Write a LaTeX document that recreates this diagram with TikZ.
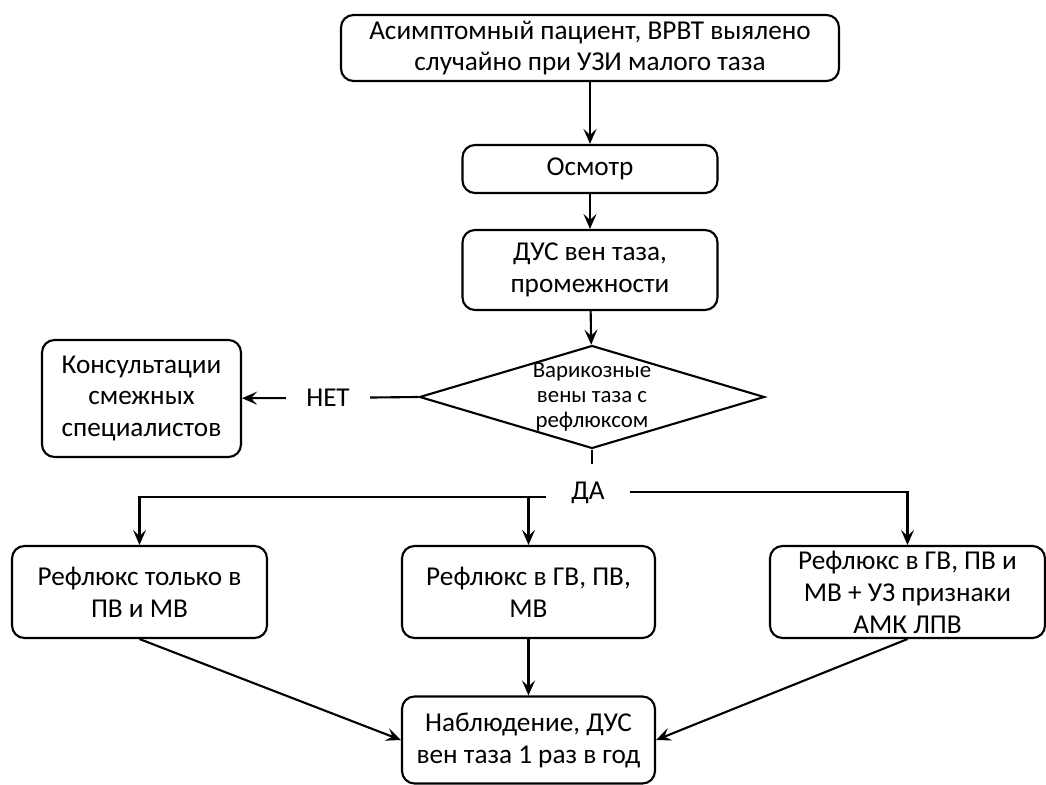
\documentclass[tikz,border=0pt]{standalone}
\usepackage{fontspec}
\setmainfont{Carlito}
\usepackage{tikz}
\usetikzlibrary{arrows.meta,shapes,positioning}
\tikzset{
  stepbox/.style={draw, line width=1.2pt, rounded corners=0.25cm, align=center,
    font=\fontsize{15.5}{18.2}\selectfont, inner sep=0pt},
  choice/.style={draw, diamond, aspect=3.35, line width=1.2pt, align=center,
    font=\fontsize{13}{14.4}\selectfont, inner xsep=0pt, inner ysep=-0.2cm},
  answer/.style={font=\fontsize{15.5}{18.2}\selectfont, inner ysep=0pt},
  flow/.style={line width=1.2pt, -{Stealth[length=3mm,width=2.6mm,inset=1.2mm]}},
  plain/.style={line width=1.2pt}
}

\begin{document}
\begin{tikzpicture}
        \useasboundingbox (0,0) rectangle (20.92,15.7);

        % Define the main column
        \node[stepbox, minimum width=9.96cm, minimum height=1.32cm] (start) at (11.8,14.74) {Асимптомный пациент, ВРВТ выялено\\ случайно при УЗИ малого таза};
        \node[stepbox, minimum width=5.1cm, minimum height=0.96cm] (exam) at (11.8,12.32) {Осмотр};
        \node[stepbox, minimum width=5.1cm, minimum height=1.6cm] (dus) at (11.8,10.3) {ДУС вен таза,\\ промежности};
        \node[choice, minimum width=6.9cm, minimum height=2.06cm] (varic) at (11.84,7.76) {Варикозные\\ вены таза с\\ рефлюксом};

        % Define the answers
        \node[answer, inner xsep=0.4cm] (no) at (6.56,7.74) {НЕТ};
        \node[answer, inner xsep=0.5cm] (yes) at (11.76,5.84) {ДА};
        \node[stepbox, minimum width=3.98cm, minimum height=2.34cm] (consult) at (2.83,7.73) {Консультации\\ смежных\\ специалистов};

        % Define the three outcomes
        \node[stepbox, minimum width=5.1cm, minimum height=1.84cm] (pvmv) at (2.79,3.86) {Рефлюкс только в\\ ПВ и МВ};
        \node[stepbox, minimum width=5.06cm, minimum height=1.84cm] (gvpv) at (10.57,3.86) {Рефлюкс в ГВ, ПВ,\\ МВ};
        \node[stepbox, minimum width=5.5cm, minimum height=1.84cm] (amk) at (18.15,3.86) {Рефлюкс в ГВ, ПВ и\\ МВ + УЗ признаки\\ АМК ЛПВ};
        \node[stepbox, minimum width=5.06cm, minimum height=1.74cm] (watch) at (10.57,0.9) {Наблюдение, ДУС\\ вен таза 1 раз в год};

        % Connect the steps
        \draw[flow] (start) -- (exam);
        \draw[flow] (exam) -- (dus);
        \draw[flow] (dus) -- (varic);
        \draw[plain] (varic.west) -- (no);
        \draw[flow] (no) -- (consult);
        \coordinate (stub) at ([yshift=-0.28cm]varic.south);
        \draw[plain] (varic.south) -- (stub);
        \coordinate (split) at ([yshift=-0.08cm]yes.west);
        \draw[flow] (split) -| (pvmv.north);
        \draw[flow] (split -| gvpv.north) -- (gvpv.north);
        \draw[flow] ([yshift=0.02cm]yes.east) -| (amk.north);
        \draw[flow] (pvmv.south) -- (watch.west);
        \draw[flow] (gvpv) -- (watch);
        \draw[flow] (amk.south) -- (watch.east);
    \end{tikzpicture}
\end{document}
